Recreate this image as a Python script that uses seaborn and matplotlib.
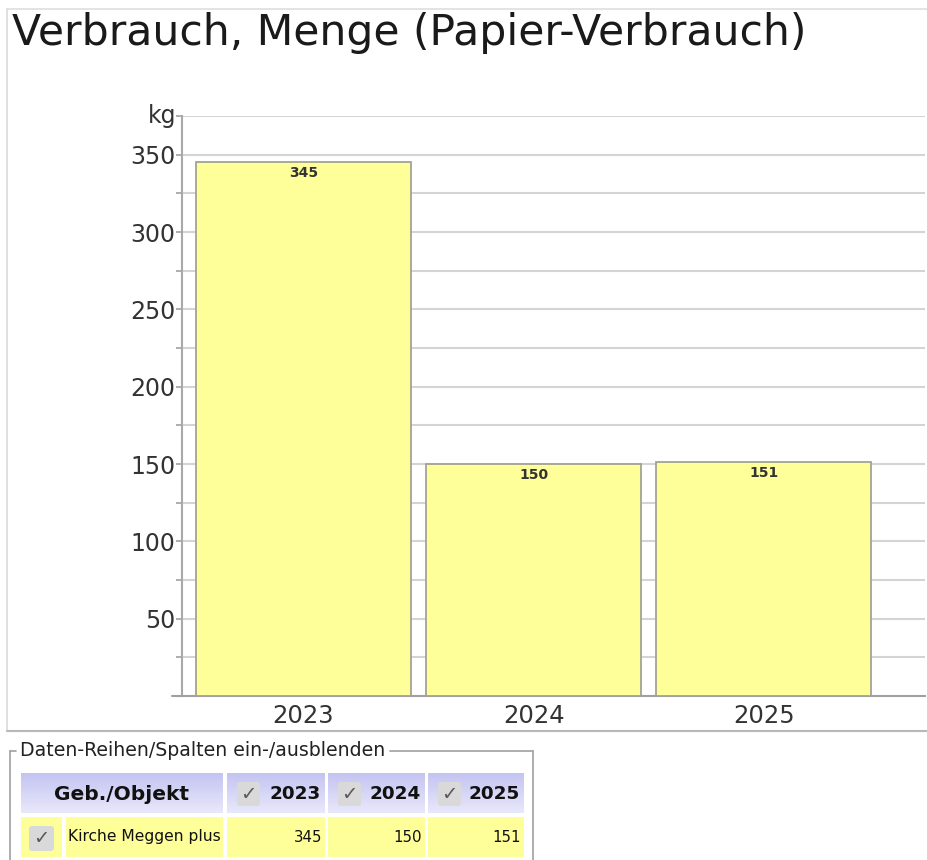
import matplotlib
matplotlib.use("Agg")
import matplotlib.pyplot as plt
import seaborn as sns
import pandas as pd
import numpy as np
from matplotlib.patches import Rectangle, FancyBboxPatch
from matplotlib.lines import Line2D
from matplotlib.colors import LinearSegmentedColormap

# ---- data ----
years = ["2023", "2024", "2025"]
values = [345, 150, 151]
series_name = "Kirche Meggen plus"
title = "Verbrauch, Menge (Papier-Verbrauch)"
unit = "kg"
major_ticks = [50, 100, 150, 200, 250, 300, 350]
grid_ticks = [25, 50, 75, 100, 125, 150, 175, 200, 225, 250, 275, 300, 325, 350, 375]

sns.set_theme(style="white")
plt.rcParams["font.family"] = ["DejaVu Sans"]

W, H = 927, 860
fig = plt.figure(figsize=(W / 100, H / 100), dpi=100)
fig.patch.set_facecolor("white")

# overlay axes in pixel coords (background decorations)
ov = fig.add_axes([0, 0, 1, 1], zorder=0)
ov.set_xlim(0, W)
ov.set_ylim(H, 0)
ov.axis("off")

# chart border
ov.add_line(Line2D([7, 7], [9, 731], color="#dadada", lw=1.2))
ov.add_line(Line2D([7, W], [9, 9], color="#dedede", lw=1.2))
ov.add_line(Line2D([7, W], [731, 731], color="#b8b8b8", lw=1.5))

# title
ov.text(12, 33, title, fontsize=30.6, color="#1a1a1a", va="center", ha="left")

# main axes
ax = fig.add_axes([182 / W, 1 - 696 / H, (925 - 182) / W, (696 - 116) / H], zorder=1)
ax.patch.set_alpha(0)
df = pd.DataFrame({"Jahr": years, "Wert": values})
sns.barplot(data=df, x="Jahr", y="Wert", ax=ax, color="#ffff99", saturation=1,
            width=0.935, edgecolor="#a3a394", linewidth=1.3, zorder=3)
ax.set_ylim(0, 375)
ax.set_xlim(-0.528, 2.70)
for g in grid_ticks:
    ax.axhline(g, color="#d4d4d4", lw=1.5, zorder=1)
ax.set_yticks(grid_ticks)
ax.set_yticklabels([str(t) if t in major_ticks else "" for t in grid_ticks])
ax.tick_params(axis="y", length=4.3, width=1.3, color="#a8a8a8", labelsize=17,
               labelcolor="#333333", pad=0.5, left=True)
ax.tick_params(axis="x", length=0, labelsize=17.5, labelcolor="#333333", pad=5.5)
ax.set_xlabel("")
ax.set_ylabel("")
for s in ["top", "right"]:
    ax.spines[s].set_visible(False)
ax.spines["left"].set_color("#a8a8a8")
ax.spines["left"].set_linewidth(1.5)
ax.spines["bottom"].set_color("#a0a0a0")
ax.spines["bottom"].set_linewidth(1.5)
# extend bottom axis line slightly left
ov.add_line(Line2D([172, 182], [696, 696], color="#a0a0a0", lw=1.5))
# unit label
ov.text(176, 116, unit, fontsize=17, color="#333333", ha="right", va="center")

# bar value labels
for i, v in enumerate(values):
    ax.annotate(str(v), (i, v), xytext=(0, -11), textcoords="offset pixels",
                ha="center", va="center", fontsize=10, fontweight="semibold",
                color="#333333", zorder=5)

# ---- bottom table ----
ov2 = fig.add_axes([0, 0, 1, 1], zorder=2)
ov2.axis("off")
ov2.patch.set_alpha(0)

# group box
gb = "#a0a0a0"
ov2.add_line(Line2D([10, 10], [751, H], color=gb, lw=1.2))
ov2.add_line(Line2D([10, 16], [751, 751], color=gb, lw=1.2))
ov2.add_line(Line2D([390, 533], [751, 751], color=gb, lw=1.2))
ov2.add_line(Line2D([533, 533], [751, H], color=gb, lw=1.2))
ov2.text(20, 750, "Daten-Reihen/Spalten ein-/ausblenden", fontsize=13.6,
         color="#222222", ha="left", va="center")

grad = np.linspace(0, 1, 50).reshape(-1, 1)
cm = LinearSegmentedColormap.from_list("hdr", ["#c4c4f2", "#e8e8fb"])

hdr_y0, hdr_y1 = 773, 813
row_y0, row_y1 = 817, 857
hdr_cells = [(21, 223), (227, 325), (328, 425), (428, 524)]
for (x0, x1) in hdr_cells:
    ov2.imshow(grad, extent=(x0, x1, hdr_y1, hdr_y0), aspect="auto", cmap=cm,
               zorder=1, origin="upper")
ov2.set_xlim(0, W)
ov2.set_ylim(H, 0)

ov2.text((21 + 223) / 2, (hdr_y0 + hdr_y1) / 2 + 1, "Geb./Objekt", fontsize=14.5,
         fontweight="bold", color="#111111", ha="center", va="center", zorder=3)


def checkbox(x0, y0, w, h):
    ov2.add_patch(FancyBboxPatch((x0 + 3, y0 + 3), w - 6, h - 6,
                                 boxstyle="round,pad=3", facecolor="#d9d9d9",
                                 edgecolor="none", zorder=2))
    ov2.text(x0 + w / 2, y0 + h / 2, "\u2713", fontsize=14, color="#5a5a5a",
             ha="center", va="center", zorder=3)


for (x0, x1), yr in zip(hdr_cells[1:], years):
    checkbox(x0 + 10, 782, 23, 24)
    ov2.text(x1 - 4, (hdr_y0 + hdr_y1) / 2 + 1, yr, fontsize=13.2, fontweight="bold",
             color="#111111", ha="right", va="center", zorder=3)

row_cells = [(21, 62), (66, 223), (227, 325), (328, 425), (428, 524)]
for (x0, x1) in row_cells:
    ov2.add_patch(Rectangle((x0, row_y0), x1 - x0, row_y1 - row_y0,
                            facecolor="#ffff99", edgecolor="none", zorder=1))
checkbox(29, 826, 25, 25)
ov2.text(68, (row_y0 + row_y1) / 2, series_name, fontsize=11.2, color="#111111",
         ha="left", va="center", zorder=3)
for (x0, x1), v in zip(row_cells[2:], values):
    ov2.text(x1 - 3, (row_y0 + row_y1) / 2, str(v), fontsize=10.8, color="#111111",
             ha="right", va="center", zorder=3)

fig.savefig("out.png", dpi=100, facecolor="white")
